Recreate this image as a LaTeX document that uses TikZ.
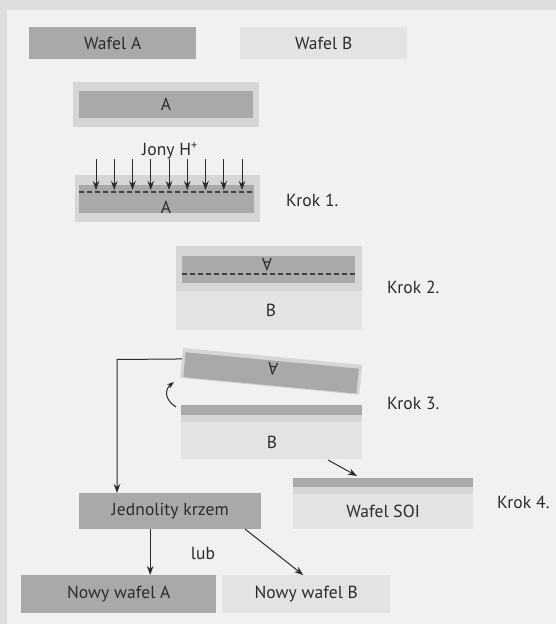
\documentclass[tikz,border=0pt]{standalone}
\usepackage{fontspec}
\setmainfont{PT Sans}[LetterSpace=0.5]
\usetikzlibrary{arrows.meta}
\definecolor{frameg}{HTML}{DEDEDE}
\definecolor{bgg}{HTML}{F1F1F1}
\definecolor{darkg}{HTML}{A9A9A9}
\definecolor{midg}{HTML}{D6D6D6}
\definecolor{lightg}{HTML}{E3E3E3}
\definecolor{txt}{HTML}{2B2B2B}
\tikzset{
  box/.style={rectangle, inner sep=0pt, text=txt, font=\fontsize{17.5}{20}\selectfont},
  darkbox/.style={box, fill=darkg},
  lightbox/.style={box, fill=lightg},
  lbl/.style={text=txt, inner sep=0pt, font=\fontsize{17.5}{20}\selectfont},
  arr/.style={draw=txt, line width=1pt, -{Stealth[length=9pt,width=6.5pt]}},
  cut/.style={draw=txt!90, line width=1.1pt, dash pattern=on 5pt off 3pt},
}
\begin{document}
\begin{tikzpicture}[x=1pt,y=-1pt]
\useasboundingbox (0,0) rectangle (556,624);
\fill[frameg] (0,0) rectangle (556,624);
\fill[bgg] (7,10) rectangle (556,624);

% top legend
\node[darkbox, minimum width=167pt, minimum height=32pt, anchor=north west] (wafA) at (29,27) {Wafel A};
\node[lightbox, minimum width=167pt, minimum height=32pt, anchor=north west] (wafB) at (240,27) {Wafel B};

% oxidized wafer A
\fill[midg] (73,82) rectangle (259,127);
\fill[darkg] (79,91) rectangle (253,118);
\node[lbl] (a0) at (166,104.5) {A};

% step 1
\fill[midg] (75,175) rectangle (260,222);
\fill[darkg] (79,185) rectangle (254,213);
\draw[cut] (79,192) -- (254,192);
\node[lbl] (a1) at (166,207) {A};
\node[lbl] (ions) at (170,151) {Jony H\textsuperscript{+}};
\foreach \i in {0,...,8} {
  \coordinate (is\i) at ({96+\i*18.25},159);
  \coordinate (ie\i) at ({96+\i*18.25},190);
  \draw[arr] (is\i) -- (ie\i);
}
\node[lbl, anchor=west] (k1) at (286,200) {Krok 1.};

% step 2
\fill[midg] (176,246) rectangle (362,291);
\fill[lightg] (176,291) rectangle (362,330);
\fill[darkg] (182,256) rectangle (355,283);
\draw[cut] (182,274) -- (355,274);
\node[lbl, rotate=180] (a2) at (267,265) {A};
\node[lbl] (b2) at (271,310) {B};
\node[lbl, anchor=west] (k2) at (387,287) {Krok 2.};

% step 3: tilted wafer A
\begin{scope}[shift={(183,348)}, rotate=-5.4]
  \fill[midg] (0,0) rectangle (180,30);
  \fill[darkg] (3,4) rectangle (177,29);
  \coordinate (tl) at (0,11);
\end{scope}
\node[lbl, rotate=174.6] (a3) at (273,369) {A};
% step 3: wafer B
\fill[darkg] (181,405) rectangle (362,415);
\fill[midg] (181,415) rectangle (362,422);
\fill[lightg] (181,422) rectangle (362,459);
\node[lbl] (b3) at (272,442) {B};
\coordinate (cs) at (176,407);
\coordinate (ce) at (174,382);
\draw[arr, -{Stealth[length=7pt,width=5pt]}] (cs) .. controls (165,400) and (164,390) .. (ce);
\node[lbl, anchor=west] (k3) at (387,403) {Krok 3.};

% step 4: SOI wafer
\fill[darkg] (293,478) rectangle (473,487);
\fill[midg] (293,487) rectangle (473,494);
\node[lightbox, minimum width=180pt, minimum height=35pt, anchor=north west] (soi) at (293,494) {Wafel SOI};
\node[lbl, anchor=west] (k4) at (497,502) {Krok 4.};
\coordinate (s0) at (328,460);
\coordinate (s1) at (357,476);
\draw[arr] (s0) -- (s1);

% recycling
\node[darkbox, minimum width=182pt, minimum height=36pt, anchor=north west] (jk) at (79,493) {Jednolity krzem};
\coordinate (corner) at (117,359.5);
\draw[arr] (tl) -- (corner) -- (corner |- jk.north);

\node[darkbox, minimum width=195pt, minimum height=38pt, anchor=north west] (nA) at (21,575) {Nowy wafel A};
\node[lightbox, minimum width=168pt, minimum height=38pt, anchor=north west] (nB) at (222,575) {Nowy wafel B};
\node[lbl] (lub) at (203,553) {lub};

\draw[arr] ([xshift=-20pt]jk.south) -- ([xshift=-20pt]jk.south |- nA.north);
\coordinate (d0) at (245,529);
\draw[arr] (d0) -- ([xshift=-3pt]nB.north);
\end{tikzpicture}
\end{document}
